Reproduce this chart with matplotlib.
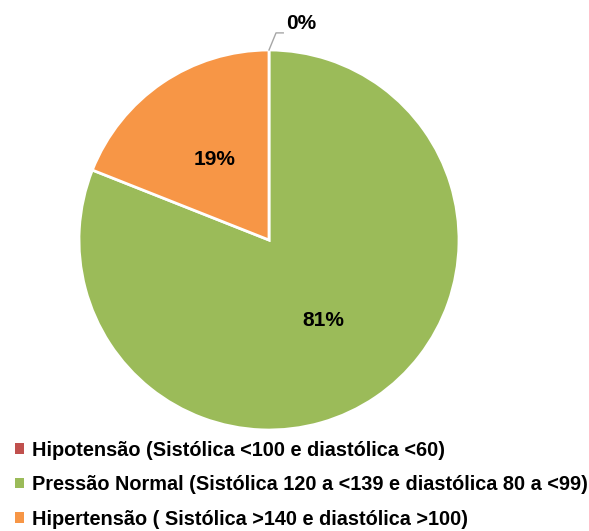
import numpy as np
import matplotlib.pyplot as plt
from matplotlib.patches import Patch

labels = ['Hipotensão (Sistólica <100 e diastólica <60)',
          'Pressão Normal (Sistólica 120 a <139 e diastólica 80 a <99)',
          'Hipertensão ( Sistólica >140 e diastólica >100)']
values = [0, 81, 19]
colors = ['#C0504D', '#9BBB59', '#F79646']

plt.rcParams['font.family'] = ['Liberation Sans', 'DejaVu Sans']
plt.rcParams['font.weight'] = 'bold'

fig = plt.figure(figsize=(5.89, 5.31), dpi=100)
ax = fig.add_axes([79 / 589, 101 / 531, 380 / 589, 380 / 531])


def pct(p):
    return '' if p < 0.5 else f'{p:.0f}%'


wedges, texts, autotexts = ax.pie(values, colors=colors, startangle=90, counterclock=False,
                                  autopct=pct, pctdistance=0.51,
                                  wedgeprops=dict(edgecolor='white', linewidth=2),
                                  textprops=dict(fontsize=15, fontweight='bold', color='black'))
ax.set_xlim(-1, 1)
ax.set_ylim(-1, 1)
ax.set_aspect('equal')

# label for the zero slice with a leader line
w = wedges[0]
ang = np.deg2rad((w.theta1 + w.theta2) / 2)
x0, y0 = np.cos(ang), np.sin(ang)
ax.plot([x0, x0 + 0.037, x0 + 0.075], [y0, y0 + 0.09, y0 + 0.09], color='#A6A6A6', lw=1,
        clip_on=False)
ax.text(x0 + 0.09, y0 + 0.09, f'{values[0]}%', fontsize=15, fontweight='bold',
        ha='left', va='bottom', clip_on=False)

handles = [Patch(facecolor=c, edgecolor='none') for c in colors]
fig.legend(handles, labels, loc='upper left', bbox_to_anchor=(0.025, 0.170), frameon=False,
           fontsize=14.3, handlelength=0.45, handleheight=0.45, handletextpad=0.4,
           labelspacing=0.78, borderaxespad=0, borderpad=0)

fig.savefig('out.png', dpi=100)
